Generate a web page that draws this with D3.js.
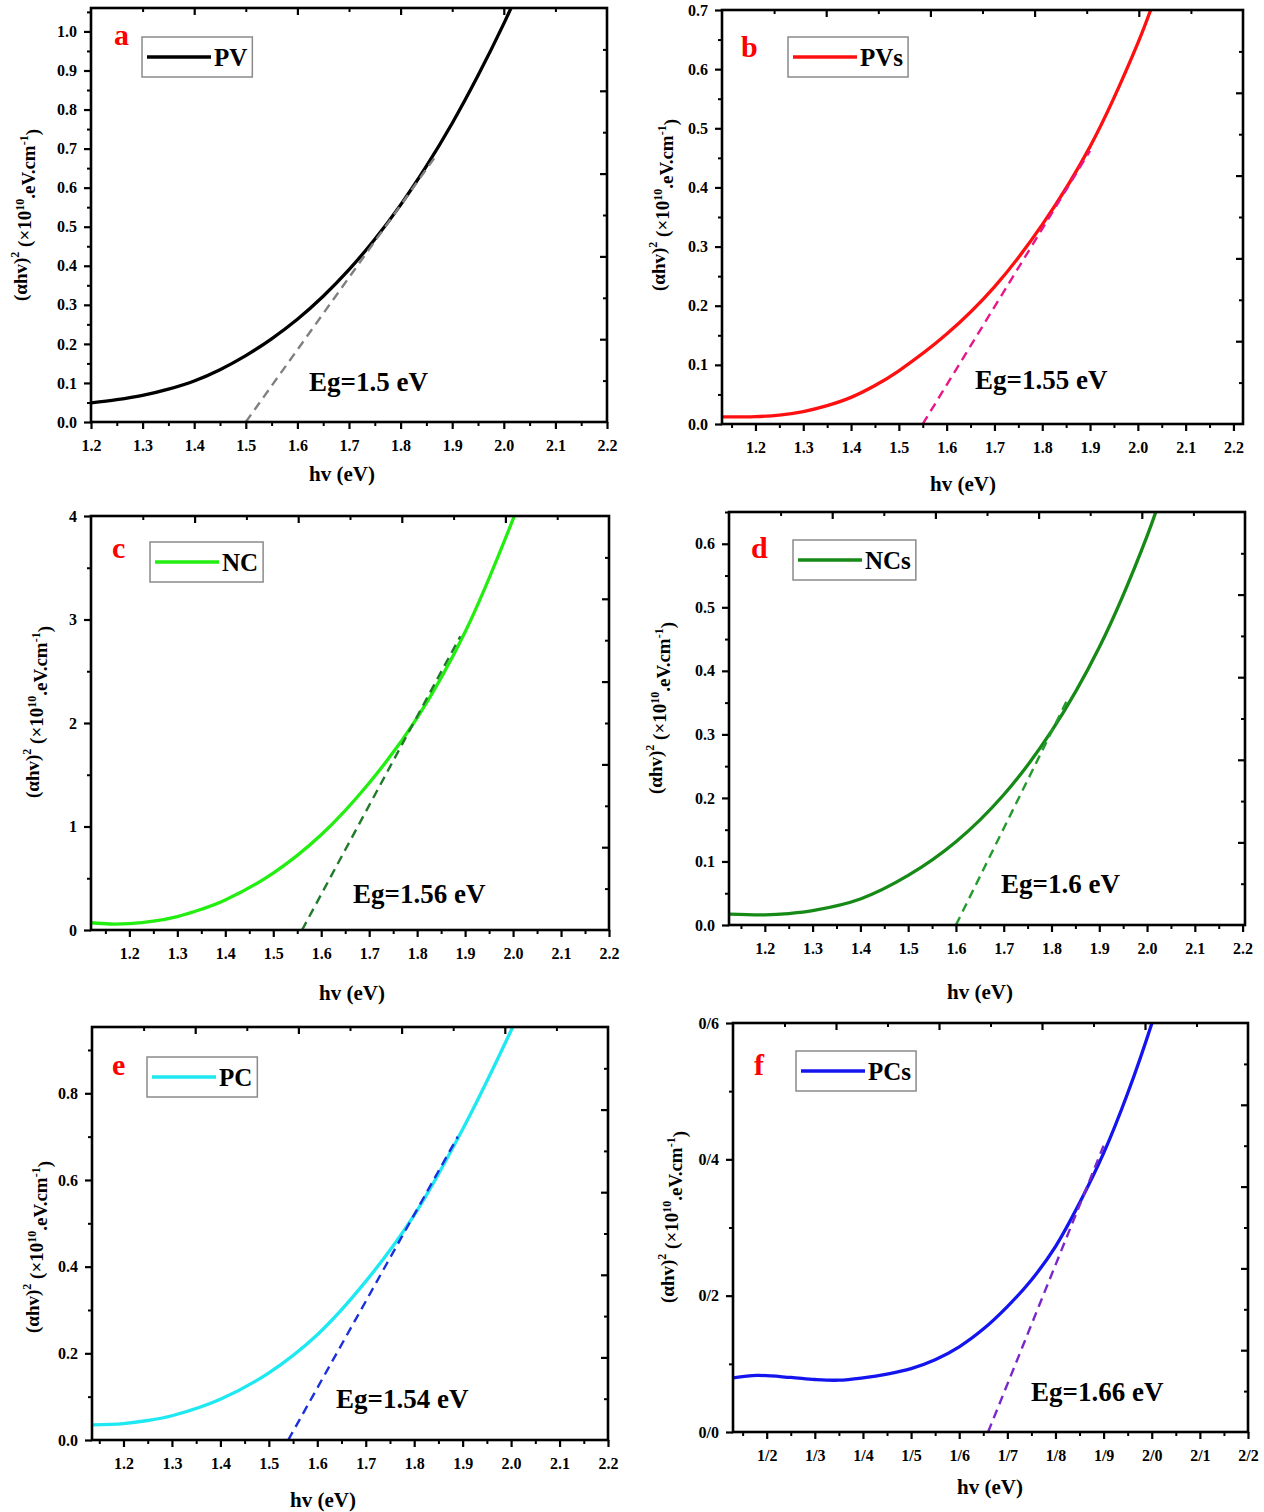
<!DOCTYPE html>
<html>
<head>
<meta charset="utf-8">
<script src="https://cdn.jsdelivr.net/npm/d3@7/dist/d3.min.js"></script>
<style>
  body { margin: 0; background: #ffffff; }
  svg text { font-family: "Liberation Serif", "Times New Roman", serif; font-weight: bold; fill: #000; }
</style>
</head>
<body>
<svg id="chart" width="1264" height="1512"></svg>
<script>
// Tauc plots: photon energy hv (eV) against (αhv)² (×10¹⁰ eV·cm⁻¹) for six samples.

// ---- measured curves ----
const energyPV  = [1.2, 1.25, 1.3, 1.35, 1.4, 1.45, 1.5, 1.55, 1.6, 1.65, 1.7, 1.75, 1.8, 1.85, 1.9, 1.95, 2.0, 2.05];
const absorbPV  = [0.049, 0.057, 0.068, 0.084, 0.105, 0.134, 0.17, 0.213, 0.263, 0.322, 0.39, 0.468, 0.556, 0.655, 0.765, 0.887, 1.02, 1.165];

const energyPVs = [1.13, 1.2, 1.25, 1.3, 1.35, 1.4, 1.45, 1.5, 1.6, 1.7, 1.8, 1.9, 2.0, 2.04];
const absorbPVs = [0.012, 0.0125, 0.015, 0.021, 0.031, 0.045, 0.065, 0.090, 0.152, 0.232, 0.337, 0.469, 0.644, 0.73];

const energyNC  = [1.12, 1.16, 1.2, 1.25, 1.3, 1.35, 1.4, 1.5, 1.6, 1.7, 1.8, 1.9, 2.0, 2.03];
const absorbNC  = [0.07, 0.058, 0.062, 0.085, 0.13, 0.20, 0.29, 0.55, 0.92, 1.42, 2.05, 2.88, 3.97, 4.35];

const energyNCs = [1.125, 1.2, 1.25, 1.3, 1.4, 1.5, 1.6, 1.7, 1.8, 1.9, 2.0, 2.04];
const absorbNCs = [0.017, 0.016, 0.018, 0.0225, 0.041, 0.078, 0.131, 0.205, 0.305, 0.437, 0.612, 0.70];

const energyPC  = [1.135, 1.2, 1.25, 1.3, 1.4, 1.5, 1.6, 1.7, 1.8, 1.9, 2.0, 2.03];
const absorbPC  = [0.035, 0.038, 0.045, 0.056, 0.094, 0.155, 0.243, 0.366, 0.519, 0.717, 0.945, 1.02];

const energyPCs = [1.13, 1.18, 1.25, 1.3, 1.35, 1.4, 1.45, 1.5, 1.55, 1.6, 1.65, 1.7, 1.75, 1.8, 1.85, 1.9, 1.95, 2.0, 2.03];
const absorbPCs = [0.0795, 0.083, 0.080, 0.077, 0.076, 0.0795, 0.085, 0.093, 0.106, 0.125, 0.151, 0.184, 0.223, 0.272, 0.336, 0.409, 0.497, 0.599, 0.67];

// ---- sample names, band gaps and linear extrapolation ----
const sampleNames      = ["PV", "PVs", "NC", "NCs", "PC", "PCs"];
const panelLetters     = ["a", "b", "c", "d", "e", "f"];
const bandGaps         = [1.5, 1.55, 1.56, 1.6, 1.54, 1.66];
const tangentSlopes    = [1.85, 1.32, 8.6, 1.52, 2.0, 1.75];
const tangentEndEnergy = [1.87, 1.9, 1.89, 1.835, 1.89, 1.9];

// ---- axis ranges and ticks ----
const xRanges = [[1.2, 2.2], [1.13, 2.22], [1.12, 2.2], [1.125, 2.205], [1.135, 2.2], [1.13, 2.2]];
const yRanges = [[0, 1.06], [0, 0.7], [0, 4], [0, 0.65], [0, 0.953], [0, 0.6]];

const xTickValues      = [1.2, 1.3, 1.4, 1.5, 1.6, 1.7, 1.8, 1.9, 2.0, 2.1, 2.2];
const xTickLabels      = ["1.2", "1.3", "1.4", "1.5", "1.6", "1.7", "1.8", "1.9", "2.0", "2.1", "2.2"];
const xTickLabelsSlash = ["1/2", "1/3", "1/4", "1/5", "1/6", "1/7", "1/8", "1/9", "2/0", "2/1", "2/2"];

const yTicksPV  = [0, 0.1, 0.2, 0.3, 0.4, 0.5, 0.6, 0.7, 0.8, 0.9, 1.0];
const yLabelsPV = ["0.0", "0.1", "0.2", "0.3", "0.4", "0.5", "0.6", "0.7", "0.8", "0.9", "1.0"];
const yTicksPVs  = [0, 0.1, 0.2, 0.3, 0.4, 0.5, 0.6, 0.7];
const yLabelsPVs = ["0.0", "0.1", "0.2", "0.3", "0.4", "0.5", "0.6", "0.7"];
const yTicksNC  = [0, 1, 2, 3, 4];
const yLabelsNC = ["0", "1", "2", "3", "4"];
const yTicksNCs  = [0, 0.1, 0.2, 0.3, 0.4, 0.5, 0.6];
const yLabelsNCs = ["0.0", "0.1", "0.2", "0.3", "0.4", "0.5", "0.6"];
const yTicksPC  = [0, 0.2, 0.4, 0.6, 0.8];
const yLabelsPC = ["0.0", "0.2", "0.4", "0.6", "0.8"];
const yTicksPCs  = [0, 0.2, 0.4, 0.6];
const yLabelsPCs = ["0/0", "0/2", "0/4", "0/6"];

// ---- per-panel assembly ----
const panels = [
  { energy: energyPV,  absorb: absorbPV,  yTicks: yTicksPV,  yLabels: yLabelsPV,  xLabels: xTickLabels },
  { energy: energyPVs, absorb: absorbPVs, yTicks: yTicksPVs, yLabels: yLabelsPVs, xLabels: xTickLabels },
  { energy: energyNC,  absorb: absorbNC,  yTicks: yTicksNC,  yLabels: yLabelsNC,  xLabels: xTickLabels },
  { energy: energyNCs, absorb: absorbNCs, yTicks: yTicksNCs, yLabels: yLabelsNCs, xLabels: xTickLabels },
  { energy: energyPC,  absorb: absorbPC,  yTicks: yTicksPC,  yLabels: yLabelsPC,  xLabels: xTickLabels },
  { energy: energyPCs, absorb: absorbPCs, yTicks: yTicksPCs, yLabels: yLabelsPCs, xLabels: xTickLabelsSlash }
].map((p, i) => Object.assign(p, {
  name: sampleNames[i], letter: panelLetters[i], eg: bandGaps[i],
  slope: tangentSlopes[i], tangentEnd: tangentEndEnergy[i],
  xDomain: xRanges[i], yDomain: yRanges[i]
}));

// ---- layout and style ----
const layout = [
  { left: 91,  top: 8,    w: 516, h: 414, letter: [23, 37], legend: [51, 29], eg: [218, 383], xTitle: [342, 481], yTitle: [20, 215] },
  { left: 722, top: 10,   w: 521, h: 414, letter: [19, 47], legend: [66, 27], eg: [253, 379], xTitle: [963, 491], yTitle: [658, 205] },
  { left: 91,  top: 516,  w: 518, h: 414, letter: [21, 42], legend: [59, 26], eg: [262, 387], xTitle: [352, 1000], yTitle: [32, 712] },
  { left: 729, top: 512,  w: 516, h: 413, letter: [22, 46], legend: [64, 28], eg: [272, 381], xTitle: [980, 999], yTitle: [655, 708] },
  { left: 92,  top: 1027, w: 516, h: 413, letter: [20, 48], legend: [55, 30], eg: [244, 381], xTitle: [323, 1507], yTitle: [32, 1247] },
  { left: 733, top: 1023, w: 515, h: 409, letter: [21, 52], legend: [63, 28], eg: [298, 378], xTitle: [990, 1494], yTitle: [667, 1217] }
];
const curveColors   = ["#000000", "#ff1010", "#22ee10", "#168a16", "#1ee8f2", "#1414ee"];
const tangentColors = ["#808080", "#e8168b", "#1f7a2a", "#239a2e", "#1a30dd", "#7a26cc"];

const svg = d3.select("#chart");

function styleTicks(sel, width) {
  sel.select(".domain").remove();
  sel.selectAll(".tick line").attr("stroke", "#000").attr("stroke-width", width);
}
function styleLabels(sel) {
  sel.selectAll("text").attr("font-size", 16)
    .attr("font-family", "Liberation Serif").attr("font-weight", "bold");
}

panels.forEach((p, i) => {
  const L = layout[i];
  const right = L.left + L.w, bottom = L.top + L.h;
  const x = d3.scaleLinear().domain(p.xDomain).range([L.left, right]);
  const y = d3.scaleLinear().domain(p.yDomain).range([bottom, L.top]);
  const g = svg.append("g").attr("class", "panel-" + p.letter);

  g.append("clipPath").attr("id", "clip-" + i)
    .append("rect").attr("x", L.left).attr("y", L.top).attr("width", L.w).attr("height", L.h);

  // bottom axis: minor then major ticks with labels
  const xMinor = d3.range(11, 22).map(k => (k + 0.5) / 10)
    .filter(v => v >= p.xDomain[0] && v <= p.xDomain[1]);
  g.append("g").attr("transform", `translate(0,${bottom})`)
    .call(d3.axisBottom(x).tickValues(xMinor).tickSize(4).tickFormat(""))
    .call(s => styleTicks(s, 2));
  g.append("g").attr("transform", `translate(0,${bottom})`)
    .call(d3.axisBottom(x).tickValues(xTickValues).tickSize(7).tickPadding(11)
      .tickFormat((d, k) => p.xLabels[k]))
    .call(s => styleTicks(s, 2.2))
    .call(styleLabels);

  // left axis
  const yStep = p.yTicks[1] - p.yTicks[0];
  const yMinor = d3.range(0, p.yTicks.length + 1).map(k => (k + 0.5) * yStep)
    .filter(v => v <= p.yDomain[1] + 1e-9);
  g.append("g").attr("transform", `translate(${L.left},0)`)
    .call(d3.axisLeft(y).tickValues(yMinor).tickSize(4).tickFormat(""))
    .call(s => styleTicks(s, 2));
  g.append("g").attr("transform", `translate(${L.left},0)`)
    .call(d3.axisLeft(y).tickValues(p.yTicks).tickSize(7).tickPadding(7)
      .tickFormat((d, k) => p.yLabels[k]))
    .call(s => styleTicks(s, 2.2))
    .call(styleLabels);

  // top and right edges carry their own inward ticks, five divisions each
  const fx = d3.scaleLinear().domain([0, 1]).range([L.left, right]);
  const fy = d3.scaleLinear().domain([0, 1]).range([bottom, L.top]);
  const majorFrac = [0.2, 0.4, 0.6, 0.8], minorFrac = [0.1, 0.3, 0.5, 0.7, 0.9];
  g.append("g").attr("transform", `translate(0,${L.top})`)
    .call(d3.axisTop(fx).tickValues(majorFrac).tickSize(-7).tickFormat("")).call(s => styleTicks(s, 2.2));
  g.append("g").attr("transform", `translate(0,${L.top})`)
    .call(d3.axisTop(fx).tickValues(minorFrac).tickSize(-4).tickFormat("")).call(s => styleTicks(s, 2));
  g.append("g").attr("transform", `translate(${right},0)`)
    .call(d3.axisRight(fy).tickValues(majorFrac).tickSize(-7).tickFormat("")).call(s => styleTicks(s, 2.2));
  g.append("g").attr("transform", `translate(${right},0)`)
    .call(d3.axisRight(fy).tickValues(minorFrac).tickSize(-4).tickFormat("")).call(s => styleTicks(s, 2));

  // measured curve
  const pts = p.energy.map((e, k) => [e, p.absorb[k]]);
  const line = d3.line().x(d => x(d[0])).y(d => y(d[1])).curve(d3.curveCatmullRom.alpha(0.5));
  g.append("path").datum(pts).attr("clip-path", `url(#clip-${i})`)
    .attr("d", line).attr("fill", "none")
    .attr("stroke", curveColors[i]).attr("stroke-width", 3.3)
    .attr("stroke-linecap", "round").attr("stroke-linejoin", "round");

  // linear extrapolation to the energy axis at Eg
  const tangent = [[p.eg, 0], [p.tangentEnd, p.slope * (p.tangentEnd - p.eg)]];
  g.append("path").datum(tangent).attr("clip-path", `url(#clip-${i})`)
    .attr("d", d3.line().x(d => x(d[0])).y(d => y(d[1])))
    .attr("fill", "none").attr("stroke", tangentColors[i])
    .attr("stroke-width", 2.4).attr("stroke-dasharray", "9,6");

  // frame
  g.append("rect").attr("x", L.left).attr("y", L.top).attr("width", L.w).attr("height", L.h)
    .attr("fill", "none").attr("stroke", "#000").attr("stroke-width", 2.6);

  // panel letter
  g.append("text").attr("x", L.left + L.letter[0]).attr("y", L.top + L.letter[1])
    .attr("font-size", 30).style("fill", "#ff0000").text(p.letter);

  // legend
  const lx = L.left + L.legend[0], ly = L.top + L.legend[1];
  const lg = g.append("g");
  const lt = lg.append("text").attr("x", lx + 72).attr("y", ly + 29)
    .attr("font-size", 25).text(p.name);
  const tw = lt.node().getComputedTextLength();
  lg.insert("rect", "text").attr("x", lx).attr("y", ly).attr("width", 72 + tw + 5).attr("height", 40)
    .attr("fill", "#fff").attr("stroke", "#8a8a8a").attr("stroke-width", 1.5);
  lg.append("line").attr("x1", lx + 5).attr("x2", lx + 69).attr("y1", ly + 20).attr("y2", ly + 20)
    .attr("stroke", curveColors[i]).attr("stroke-width", 3.6);

  // band-gap annotation
  g.append("text").attr("x", L.left + L.eg[0]).attr("y", L.top + L.eg[1])
    .attr("font-size", 27).text(`Eg=${p.eg} eV`);

  // axis titles
  g.append("text").attr("x", L.xTitle[0]).attr("y", L.xTitle[1]).attr("text-anchor", "middle")
    .attr("font-size", 21).text("hv (eV)");
  const yt = g.append("text").attr("text-anchor", "middle").attr("font-size", 19)
    .attr("transform", `translate(${L.yTitle[0]},${L.yTitle[1]}) rotate(-90)`).attr("dy", "0.35em");
  yt.append("tspan").text("(αhv)");
  yt.append("tspan").attr("font-size", 12).attr("dy", "-0.6em").text("2");
  yt.append("tspan").attr("dy", "0.6em").text(" (×10");
  yt.append("tspan").attr("font-size", 12).attr("dy", "-0.6em").text("10");
  yt.append("tspan").attr("dy", "0.6em").text(".eV.cm");
  yt.append("tspan").attr("font-size", 12).attr("dy", "-0.6em").text("-1");
  yt.append("tspan").attr("dy", "0.6em").text(")");
});
</script>
</body>
</html>
